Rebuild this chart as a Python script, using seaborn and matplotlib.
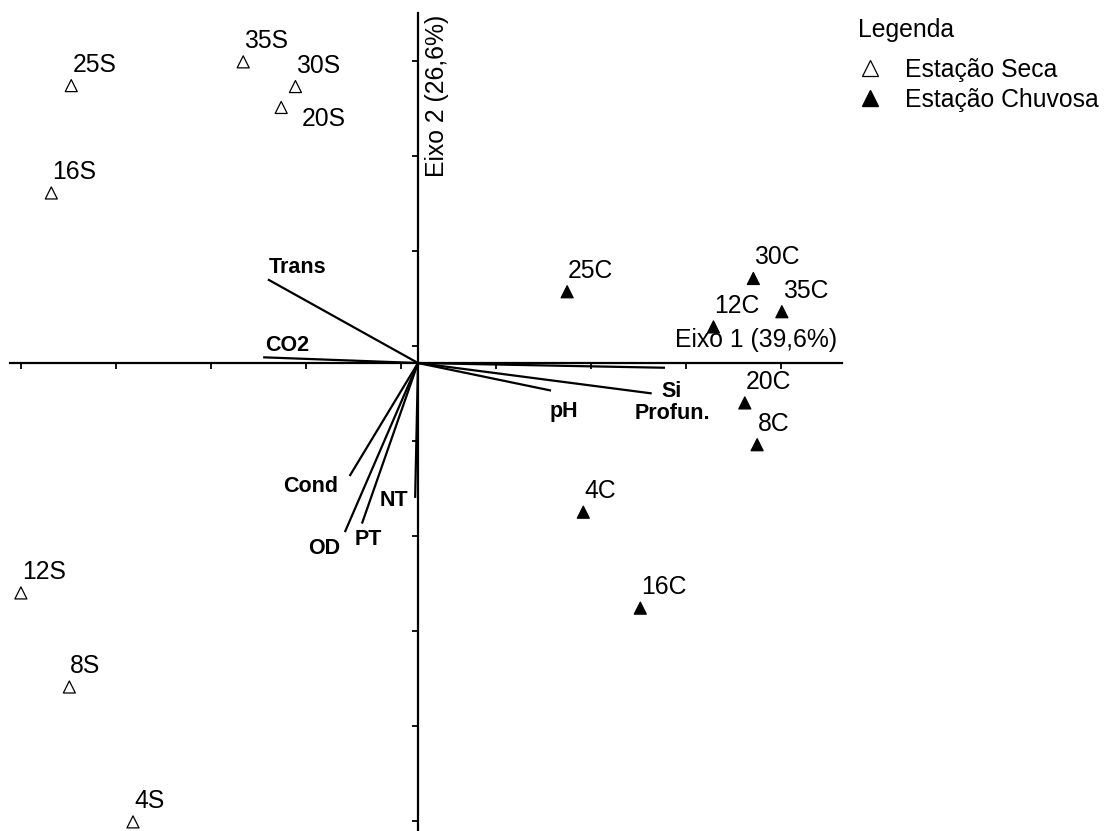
import seaborn as sns
import matplotlib.pyplot as plt
import pandas as pd
from matplotlib.lines import Line2D

# Escores das amostras (Eixo 1, Eixo 2)
amostras = ['4S', '8S', '12S', '16S', '20S', '25S', '30S', '35S',
            '4C', '8C', '12C', '16C', '20C', '25C', '30C', '35C']
eixo1 = [-3.00, -3.67, -4.18, -3.86, -1.44, -3.65, -1.29, -1.84,
         1.74, 3.57, 3.11, 2.34, 3.44, 1.57, 3.53, 3.83]
eixo2 = [-4.83, -3.41, -2.42, 1.79, 2.69, 2.92, 2.91, 3.17,
         -1.57, -0.86, 0.38, -2.58, -0.42, 0.75, 0.89, 0.54]
estacao = ['Estação Seca'] * 8 + ['Estação Chuvosa'] * 8

# Vetores das variáveis ambientais
variaveis = ['Trans', 'CO2', 'Cond', 'OD', 'PT', 'NT', 'pH', 'Si', 'Profun.']
vet1 = [-1.58, -1.63, -0.72, -0.77, -0.59, -0.03, 1.40, 2.46, 2.60]
vet2 = [0.88, 0.06, -1.19, -1.78, -1.69, -1.42, -0.29, -0.32, -0.05]

titulo_x = 'Eixo 1 (39,6%)'
titulo_y = 'Eixo 2 (26,6%)'

# posição dos rótulos (em pixels, relativo ao ponto)
desloc_amostra = {'20S': (21, -12)}
desloc_vetor = {
    'Trans': (1, 12, 'left'), 'CO2': (2, 12, 'left'), 'Cond': (-11, -10, 'right'),
    'OD': (-5, -16, 'right'), 'PT': (-7, -16, 'left'), 'NT': (-7, -3, 'right'),
    'pH': (-1, -21, 'left'), 'Si': (10, 2, 'left'), 'Profun.': (-30, -46, 'left'),
}

sns.set_style('white')
plt.rcParams['font.family'] = ['Liberation Sans', 'DejaVu Sans']
plt.rcParams['text.color'] = 'black'
FS = 17.8

df = pd.DataFrame({'amostra': amostras, 'x': eixo1, 'y': eixo2, 'estacao': estacao})

fig = plt.figure(figsize=(11.07, 8.31), dpi=100)
ax = fig.add_axes([0, 0, 1, 1])

# vetores
for nome, vx, vy in zip(variaveis, vet1, vet2):
    ax.plot([0, vx], [0, vy], color='black', lw=1.6, solid_capstyle='butt', zorder=2)
    dx, dy, ha = desloc_vetor[nome]
    ax.annotate(nome, (vx, vy), xytext=(dx, dy), textcoords='offset pixels',
                ha=ha, va='center', fontsize=15.5, fontweight='bold', color='black')

# amostras
paleta = {'Estação Seca': 'white', 'Estação Chuvosa': 'black'}
sns.scatterplot(data=df, x='x', y='y', hue='estacao', palette=paleta, marker='^',
                s=75, edgecolor='black', linewidth=0.9, legend=False, ax=ax, zorder=3)
for _, r in df.iterrows():
    dx, dy = desloc_amostra.get(r['amostra'], (1, 21))
    ax.annotate(r['amostra'], (r['x'], r['y']), xytext=(dx, dy), textcoords='offset pixels',
                ha='left', va='center', fontsize=FS, color='black')

# eixos cruzando na origem
ax.set_xlim(-4.4, 7.2526)
ax.set_ylim(-4.926, 3.821)
for lado in ['top', 'right']:
    ax.spines[lado].set_visible(False)
ax.spines['left'].set_position(('data', 0))
ax.spines['bottom'].set_position(('data', 0))
ax.spines['bottom'].set_bounds(-4.29, 4.46)
ax.spines['left'].set_bounds(-4.92, 3.68)
for lado in ['left', 'bottom']:
    ax.spines[lado].set_linewidth(1.6)
    ax.spines[lado].set_color('black')
ax.set_xticks([k - 0.18 for k in range(-4, 5)])
ax.set_yticks([k + 0.18 for k in range(-5, 4)])
ax.tick_params(bottom=True, left=True, direction='out', length=4.5, width=1.3,
               color='black', labelbottom=False, labelleft=False)
ax.set_xlabel('')
ax.set_ylabel('')

ax.text(4.41, 0.24, titulo_x, ha='right', va='center', fontsize=FS)
ax.text(0.20, 2.81, titulo_y, ha='center', va='center', rotation=90, fontsize=FS)

# legenda
fig.text(858 / 1107, 1 - 30 / 831, 'Legenda', ha='left', va='center', fontsize=FS)
handles = [Line2D([], [], marker='^', ls='none', markersize=11, markerfacecolor='white',
                  markeredgecolor='black', markeredgewidth=0.9),
           Line2D([], [], marker='^', ls='none', markersize=11, markerfacecolor='black',
                  markeredgecolor='black')]
leg = ax.legend(handles, ['Estação Seca', 'Estação Chuvosa'],
                loc='upper left', bbox_to_anchor=(858 / 1107, 1 - 58 / 831),
                bbox_transform=fig.transFigure, frameon=False, fontsize=FS,
                borderpad=0, borderaxespad=0,
                handlelength=1.0, handletextpad=0.9, labelspacing=0.23)

fig.savefig('out.png', dpi=100)
